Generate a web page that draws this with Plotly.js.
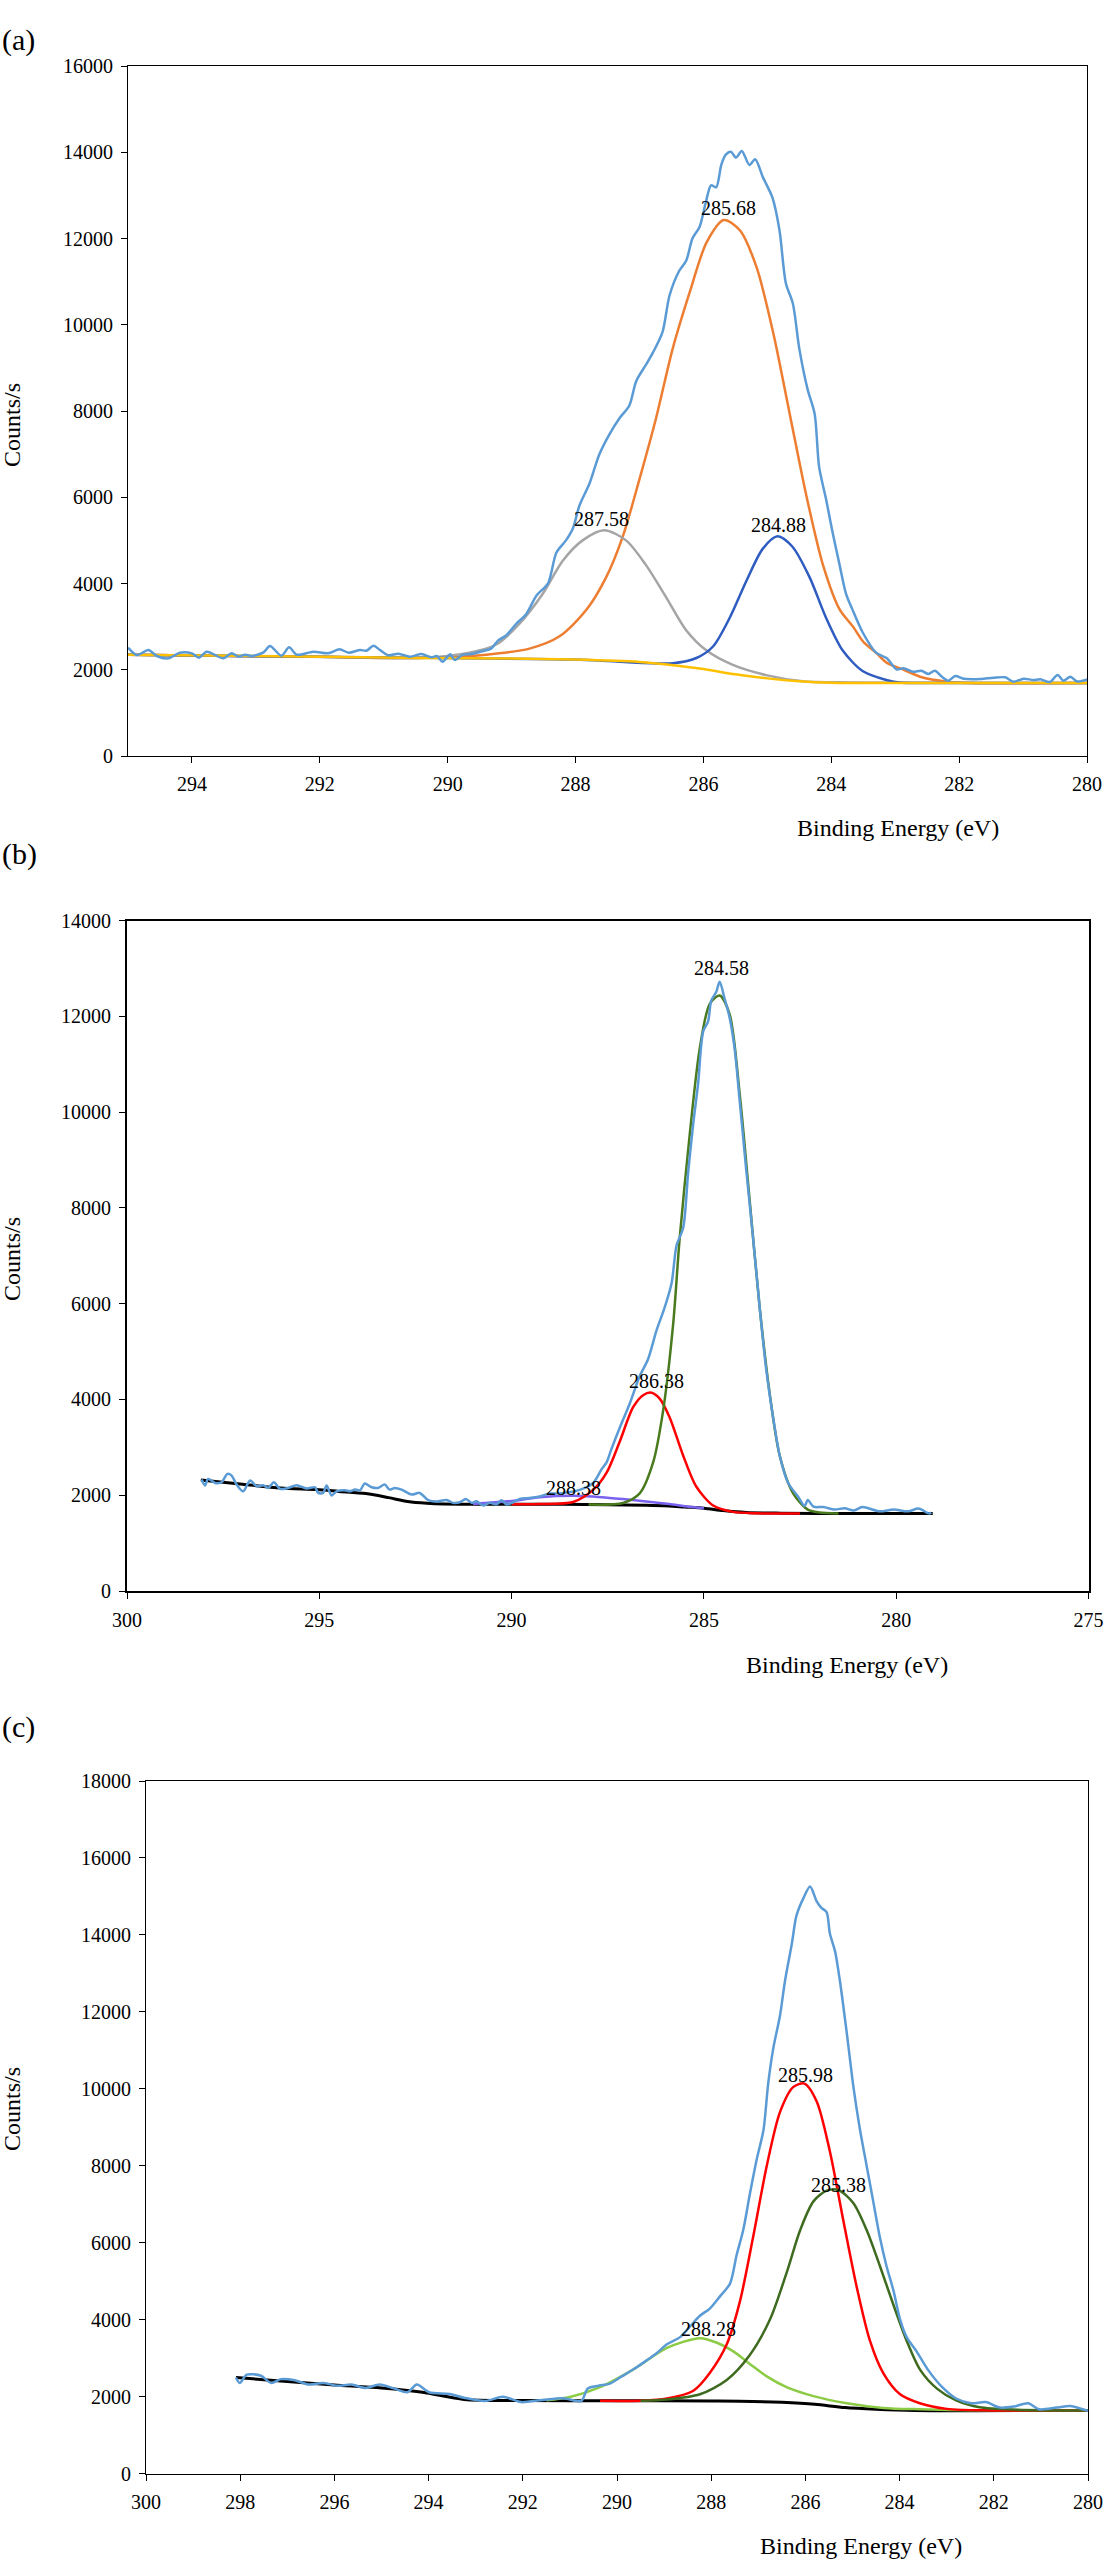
<!DOCTYPE html>
<html>
<head>
<meta charset="utf-8">
<script src="https://cdn.plot.ly/plotly-3.0.1.min.js"></script>
<style>
  html, body { margin: 0; padding: 0; background: #fff; }
  #chart { width: 1104px; height: 2560px; }
</style>
</head>
<body>
<div id="chart"></div>
<script>
// ---- Panel (a) : C 1s, four curves + Shirley background ----
const aExpE = [295.0, 294.86, 294.68, 294.55, 294.37, 294.19, 294.0, 293.89, 293.77, 293.51, 293.38, 293.27, 293.17, 293.07,
  292.88, 292.78, 292.60, 292.48, 292.36, 292.10, 291.87, 291.69, 291.55, 291.37, 291.27, 291.16, 291.06, 290.93, 290.77,
  290.59, 290.41, 290.25, 290.17, 290.08, 289.96, 289.89, 289.76, 289.62, 289.49, 289.32, 289.21, 289.08, 288.93, 288.77,
  288.61, 288.43, 288.30, 288.15, 288.04, 287.94, 287.78, 287.63, 287.47, 287.31, 287.16, 287.05, 286.90, 286.79, 286.64,
  286.53, 286.38, 286.27, 286.17, 286.06, 285.96, 285.88, 285.80, 285.72, 285.65, 285.57, 285.49, 285.40, 285.28, 285.19,
  285.07, 284.92, 284.81, 284.71, 284.60, 284.50, 284.37, 284.26, 284.19, 284.08, 283.98, 283.87, 283.77, 283.67, 283.51,
  283.30, 283.13, 282.98, 282.87, 282.72, 282.59, 282.48, 282.38, 282.27, 282.17, 282.06, 281.93, 281.67, 281.46, 281.28,
  281.15, 280.99, 280.84, 280.73, 280.58, 280.46, 280.37, 280.26, 280.16, 280.0];
const aExpC = [2512, 2342, 2458, 2319, 2265, 2396, 2381, 2280, 2419, 2265, 2381, 2303, 2350, 2319,
  2404, 2551, 2327, 2520, 2350, 2419, 2381, 2474, 2396, 2458, 2442, 2558, 2458, 2335, 2373,
  2303, 2365, 2288, 2319, 2187, 2358, 2226, 2350, 2365, 2419, 2490, 2681, 2803, 3061, 3295,
  3722, 4005, 4714, 5000, 5283, 5804, 6324, 6987, 7459, 7838, 8123, 8696, 9069, 9352, 9827,
  10678, 11246, 11483, 12003, 12269, 12856, 13234, 13187, 13707, 13943, 14010, 13876, 14029, 13707, 13839,
  13423, 12948, 12192, 10962, 10488, 9447, 8501, 7933, 6704, 5946, 5189, 4432, 3768, 3400, 2870,
  2396, 2265, 2010, 2033, 1955, 1978, 1901, 1978, 1839, 1747, 1855, 1793, 1786, 1816, 1824,
  1724, 1793, 1763, 1778, 1716, 1878, 1747, 1839, 1732, 1778];

const aOrangeE = [295.0, 292.0, 290.44, 289.40, 288.72, 288.25, 287.83, 287.52, 287.26, 287.0, 286.74, 286.48, 286.21,
  285.95, 285.68, 285.43, 285.17, 284.91, 284.65, 284.39, 284.13, 283.87, 283.66, 283.50, 283.29, 283.13, 282.92, 282.61,
  282.19, 281.83, 280.0];
const aOrangeC = [2345, 2300, 2272, 2349, 2490, 2775, 3390, 4148, 5094, 6419, 7838, 9447, 10773,
  11910, 12429, 12192, 11341, 9827, 7933, 6040, 4432, 3400, 3000, 2650, 2380, 2160, 2030, 1839,
  1724, 1693, 1690];

const aGreyE = [295.0, 292.0, 290.44, 289.66, 289.24, 288.88, 288.51, 288.20, 287.89, 287.55, 287.21, 286.90, 286.58,
  286.27, 285.95, 285.54, 285.02, 284.45, 283.67, 280.0];
const aGreyC = [2345, 2300, 2272, 2396, 2585, 3061, 3768, 4527, 5000, 5236, 5000, 4432, 3673,
  2917, 2444, 2112, 1876, 1734, 1707, 1690];

const aBlueFitE = [295.0, 290.0, 288.0, 287.31, 286.48, 286.11, 285.85, 285.59, 285.33, 285.07, 284.84, 284.61, 284.34,
  284.08, 283.82, 283.51, 283.14, 282.94, 282.5, 280.0];
const aBlueFitC = [2345, 2270, 2235, 2185, 2150, 2272, 2539, 3200, 4053, 4809, 5094, 4858, 4148,
  3200, 2444, 1971, 1763, 1707, 1693, 1690];

const aBaseE = [295.0, 292.0, 290.44, 289.0, 288.0, 287.0, 286.5, 286.0, 285.5, 285.0, 284.5, 284.0, 283.0, 280.0];
const aBaseC = [2350, 2300, 2272, 2262, 2235, 2180, 2112, 2017, 1894, 1800, 1734, 1700, 1690, 1690];

const aLabels = ['285.68', '287.58', '284.88'];
const aLabelE = [285.61, 287.60, 284.83];
const aLabelC = [12712, 5491, 5359];

// ---- Panel (b) ----
const bExpE = [298.06, 297.97, 297.89, 297.71, 297.54, 297.39, 297.28, 297.15, 296.98, 296.80, 296.63, 296.46, 296.33,
  296.18, 296.02, 295.81, 295.59, 295.33, 295.11, 295.03, 294.90, 294.81, 294.68, 294.55, 294.33, 294.20, 294.07, 293.94,
  293.82, 293.64, 293.47, 293.30, 293.17, 293.04, 292.86, 292.60, 292.39, 292.17, 291.95, 291.69, 291.52, 291.35, 291.19,
  291.04, 290.91, 290.74, 290.57, 290.39, 290.26, 290.13, 289.96, 289.79, 289.53, 289.27, 289.01, 288.75, 288.50, 288.23,
  287.88, 287.66, 287.53, 287.40, 287.19, 286.93, 286.67, 286.45, 286.24, 286.02, 285.84, 285.71, 285.54, 285.41, 285.28,
  285.15, 285.02, 284.89, 284.81, 284.68, 284.59, 284.46, 284.33, 284.20, 284.07, 283.90, 283.72, 283.55, 283.38, 283.20,
  283.03, 282.81, 282.55, 282.38, 282.30, 282.15, 281.89, 281.60, 281.34, 281.10, 280.88, 280.43, 280.07, 279.69, 279.42,
  279.14, 279.09];
const bExpC = [2326, 2201, 2341, 2257, 2270, 2445, 2410, 2222, 2082, 2305, 2187, 2208, 2152,
  2270, 2132, 2152, 2208, 2139, 2166, 2048, 2048, 2201, 1993, 2082, 2103, 2082, 2118, 2103,
  2243, 2166, 2152, 2222, 2118, 2152, 2118, 2013, 2048, 1895, 1867, 1902, 1840, 1853, 1923,
  1840, 1874, 1784, 1840, 1811, 1895, 1805, 1853, 1923, 1944, 1975, 2034, 2038, 2060, 2111,
  2255, 2541, 2685, 2973, 3405, 3910, 4484, 4845, 5421, 5923, 6428, 7219, 7578, 8730, 9737,
  10601, 11680, 11895, 12327, 12506, 12723, 12362, 11967, 11319, 10240, 8800, 7363, 5923, 4628, 3622,
  2829, 2255, 1968, 1776, 1900, 1760, 1753, 1700, 1730, 1680, 1753, 1663, 1700, 1663, 1720,
  1617, 1640];

const bGreenE = [288.0, 287.10, 286.67, 286.32, 286.06, 285.80, 285.63, 285.37, 285.11, 284.85, 284.59, 284.33, 284.07,
  283.81, 283.55, 283.29, 283.03, 282.68, 282.30, 282.0, 281.5];
const bGreenC = [1805, 1838, 2038, 2685, 3766, 5565, 7363, 9521, 11319, 12256, 12435, 12039, 10384,
  8154, 5923, 4125, 2829, 2038, 1700, 1640, 1620];

const bRedE = [290.0, 289.27, 288.40, 287.88, 287.53, 287.19, 286.84, 286.58, 286.36, 286.15, 285.89, 285.54, 285.20,
  284.76, 284.24, 283.64, 282.5];
const bRedC = [1812, 1815, 1859, 2111, 2470, 3117, 3837, 4089, 4140, 4016, 3622, 2829, 2182,
  1786, 1652, 1622, 1617];

const bPurpleE = [291.0, 290.0, 289.27, 288.38, 287.66, 287.10, 286.50, 285.90, 285.40, 285.0];
const bPurpleC = [1818, 1880, 1960, 1990, 1960, 1920, 1870, 1815, 1760, 1730];

const bBaseE = [298.08, 297.0, 296.0, 295.07, 294.5, 293.79, 293.2, 292.7, 292.2, 291.77, 290.0, 288.67, 287.5, 286.5,
  285.92, 285.5, 285.0, 284.5, 283.9, 283.0, 281.34, 279.05];
const bBaseC = [2318, 2230, 2150, 2117, 2080, 2034, 1950, 1867, 1830, 1815, 1812, 1809, 1800, 1790,
  1776, 1755, 1730, 1680, 1640, 1625, 1617, 1617];

const bLabels = ['284.58', '286.38', '288.38'];
const bLabelE = [284.54, 286.24, 288.38];
const bLabelC = [13005, 4377, 2149];

// ---- Panel (c) ----
const cExpE = [298.09, 298.01, 297.86, 297.56, 297.34, 297.14, 296.84, 296.54, 296.24, 295.94, 295.64, 295.34, 295.04,
  294.74, 294.45, 294.25, 293.99, 293.55, 293.25, 292.80, 292.42, 292.04, 291.59, 291.14, 290.76, 290.62, 290.39, 290.15,
  289.90, 289.65, 289.37, 289.16, 288.94, 288.66, 288.45, 288.24, 288.03, 287.81, 287.60, 287.46, 287.32, 287.18, 287.03,
  286.89, 286.79, 286.68, 286.54, 286.43, 286.29, 286.19, 286.04, 285.90, 285.76, 285.66, 285.55, 285.48, 285.37, 285.27,
  285.12, 284.98, 284.84, 284.70, 284.56, 284.42, 284.28, 284.13, 283.99, 283.85, 283.64, 283.40, 283.10, 282.80, 282.48,
  282.17, 281.87, 281.57, 281.27, 281.04, 280.67, 280.37, 280.0];
const cExpC = [2495, 2352, 2568, 2540, 2352, 2453, 2425, 2311, 2352, 2282, 2311, 2225, 2311,
  2212, 2111, 2311, 2111, 2069, 1970, 1884, 1996, 1856, 1911, 1955, 1884, 2212, 2282, 2337,
  2524, 2708, 2940, 3127, 3358, 3545, 3824, 4102, 4286, 4611, 4936, 5680, 6329, 7257, 8185,
  8928, 10135, 11063, 11899, 12827, 13755, 14499, 14962, 15260, 14870, 14702, 14592, 14034, 13571, 12827,
  11434, 10043, 8928, 8001, 7073, 6145, 5401, 4752, 4008, 3545, 3174, 2700, 2250, 1950, 1827,
  1856, 1713, 1742, 1827, 1670, 1713, 1756, 1627];

const cRedE = [290.36, 289.5, 288.94, 288.38, 288.03, 287.67, 287.39, 287.11, 286.82, 286.54, 286.26, 286.02, 285.76,
  285.48, 285.20, 284.91, 284.63, 284.35, 283.99, 283.57, 283.0, 282.0, 280.0];
const cRedC = [1888, 1890, 1947, 2152, 2615, 3358, 4473, 6145, 8001, 9393, 10043, 10135, 9672,
  8372, 6607, 4844, 3451, 2615, 2059, 1827, 1680, 1640, 1640];

const cDarkE = [289.5, 288.94, 288.24, 287.67, 287.18, 286.75, 286.40, 286.11, 285.83, 285.55, 285.30, 284.98, 284.70,
  284.42, 284.13, 283.85, 283.57, 283.2, 282.8, 282.3, 281.5, 280.0];
const cDarkC = [1888, 1921, 2059, 2430, 3080, 4008, 5215, 6329, 7073, 7351, 7369, 7026, 6329,
  5401, 4380, 3451, 2708, 2200, 1900, 1720, 1660, 1640];

const cLightE = [291.5, 291.0, 290.36, 289.65, 288.94, 288.24, 287.89, 287.53, 287.18, 286.82, 286.40, 285.83, 285.12,
  284.35, 283.57, 282.5, 280.0];
const cLightC = [1905, 1990, 2245, 2708, 3265, 3517, 3405, 3174, 2849, 2524, 2245, 2012, 1827,
  1705, 1669, 1645, 1640];

const cBaseE = [298.09, 297.0, 296.0, 295.0, 294.13, 293.25, 292.04, 290.0, 288.0, 287.4, 286.5, 285.8, 285.16, 284.5,
  283.66, 280.0];
const cBaseC = [2495, 2390, 2300, 2220, 2111, 1926, 1897, 1890, 1885, 1880, 1850, 1800, 1713, 1670,
  1640, 1640];

const cLabels = ['285.98', '285.38', '288.28'];
const cLabelE = [285.99, 285.30, 288.06];
const cLabelC = [10369, 7489, 3748];

// ---- styling ----
const SERIF = "'Liberation Serif', 'Times New Roman', serif";
const EXP_BLUE = '#5B9BD5';

function curve(xs, ys, color, axis, width) {
  return {
    x: xs, y: ys, xaxis: 'x' + axis, yaxis: 'y' + axis,
    type: 'scatter', mode: 'lines', hoverinfo: 'skip',
    line: { color: color, width: width || 2.5, shape: 'spline', smoothing: 0.8 },
  };
}

const traces = [
  curve(aOrangeE, aOrangeC, '#ED7D31', ''),
  curve(aGreyE, aGreyC, '#A5A5A5', ''),
  curve(aBlueFitE, aBlueFitC, '#2F5CC0', ''),
  curve(aBaseE, aBaseC, '#FFC000', ''),
  curve(aExpE, aExpC, EXP_BLUE, ''),

  curve(bBaseE, bBaseC, '#000000', '2', 3),
  curve(bPurpleE, bPurpleC, '#7B61F0', '2'),
  curve(bRedE, bRedC, '#FF0000', '2'),
  curve(bGreenE, bGreenC, '#497A1E', '2'),
  curve(bExpE, bExpC, EXP_BLUE, '2'),

  curve(cBaseE, cBaseC, '#000000', '3', 3),
  curve(cLightE, cLightC, '#8CCB45', '3'),
  curve(cRedE, cRedC, '#FF0000', '3'),
  curve(cDarkE, cDarkC, '#3E6B1F', '3'),
  curve(cExpE, cExpC, EXP_BLUE, '3'),
];

function axisBase(extra) {
  return Object.assign({
    showgrid: false, zeroline: false,
    showline: true, linecolor: '#000', linewidth: 1, mirror: true,
    ticks: 'outside', ticklen: 6, tickwidth: 1, tickcolor: '#000',
    tickformat: 'd', ticklabelstandoff: 4,
    tickfont: { family: SERIF, size: 20, color: '#000' },
    fixedrange: true,
  }, extra);
}

function peakNotes(texts, xs, ys, axis) {
  return texts.map((t, i) => ({
    text: t, x: xs[i], y: ys[i], xref: 'x' + axis, yref: 'y' + axis,
    showarrow: false, xanchor: 'center', yanchor: 'middle',
    font: { family: SERIF, size: 20, color: '#000' },
  }));
}

function paperText(text, px, py, size, extra) {
  return Object.assign({
    text: text, x: px / 1104, y: 1 - py / 2560, xref: 'paper', yref: 'paper',
    showarrow: false, xanchor: 'center', yanchor: 'middle',
    font: { family: SERIF, size: size, color: '#000' },
  }, extra);
}

const annotations = [
  ...peakNotes(aLabels, aLabelE, aLabelC, ''),
  ...peakNotes(bLabels, bLabelE, bLabelC, '2'),
  ...peakNotes(cLabels, cLabelE, cLabelC, '3'),
  paperText('(a)', 0, 40, 30, { xanchor: 'left' }),
  paperText('(b)', 0, 854, 30, { xanchor: 'left' }),
  paperText('(c)', 0, 1727, 30, { xanchor: 'left' }),
  paperText('Binding Energy (eV)', 898, 828, 24),
  paperText('Binding Energy (eV)', 847, 1665, 24),
  paperText('Binding Energy (eV)', 861, 2546, 24),
  paperText('Counts/s', 12, 425, 24, { textangle: -90 }),
  paperText('Counts/s', 12, 1259, 24, { textangle: -90 }),
  paperText('Counts/s', 12, 2109, 24, { textangle: -90 }),
];

const layout = {
  width: 1104, height: 2560,
  margin: { l: 0, r: 0, t: 0, b: 0 },
  paper_bgcolor: '#fff', plot_bgcolor: '#fff',
  showlegend: false,
  font: { family: SERIF, color: '#000' },

  xaxis:  axisBase({ domain: [128 / 1104, 1087 / 1104], range: [295, 280], tick0: 280, dtick: 2, anchor: 'y' }),
  yaxis:  axisBase({ domain: [1 - 756 / 2560, 1 - 66 / 2560], range: [0, 16000], dtick: 2000, anchor: 'x' }),

  xaxis2: axisBase({ domain: [127 / 1104, 1088.5 / 1104], range: [300, 275], tick0: 275, dtick: 5, anchor: 'y2', linewidth: 2 }),
  yaxis2: axisBase({ domain: [1 - 1591 / 2560, 1 - 920.5 / 2560], range: [0, 14000], dtick: 2000, anchor: 'x2', linewidth: 2 }),

  xaxis3: axisBase({ domain: [146 / 1104, 1088 / 1104], range: [300, 280], tick0: 280, dtick: 2, anchor: 'y3' }),
  yaxis3: axisBase({ domain: [1 - 2473.5 / 2560, 1 - 1781 / 2560], range: [0, 18000], dtick: 2000, anchor: 'x3' }),

  annotations: annotations,
};

Plotly.newPlot('chart', traces, layout, { displayModeBar: false, staticPlot: true });
</script>
</body>
</html>
